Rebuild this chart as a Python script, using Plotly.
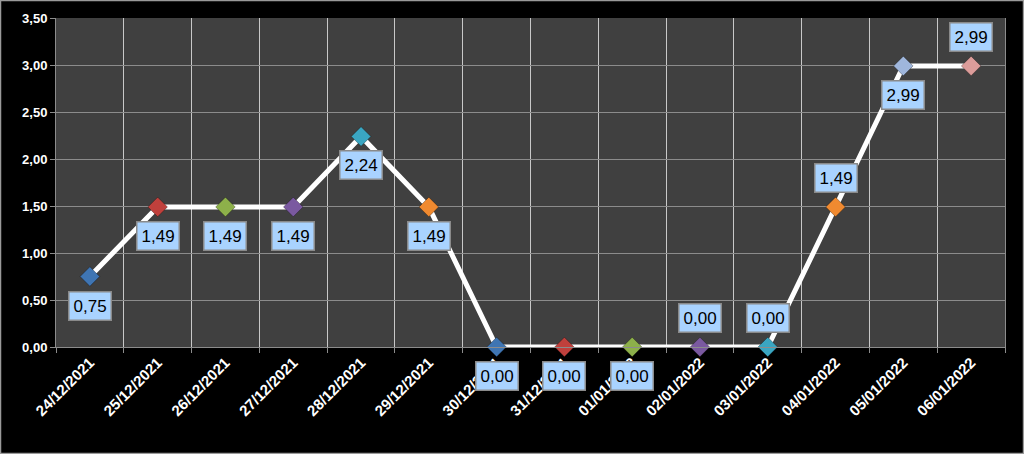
import plotly.graph_objects as go

dates = ["24/12/2021", "25/12/2021", "26/12/2021", "27/12/2021", "28/12/2021",
         "29/12/2021", "30/12/2021", "31/12/2021", "01/01/2022", "02/01/2022",
         "03/01/2022", "04/01/2022", "05/01/2022", "06/01/2022"]
values = [0.75, 1.49, 1.49, 1.49, 2.24, 1.49, 0.00, 0.00, 0.00, 0.00, 0.00, 1.49, 2.99, 2.99]
marker_colors = ["#3f75b3", "#c0403c", "#8db04a", "#7a59a0", "#3aa6c2", "#f08a30",
                 "#3f75b3", "#c0403c", "#8db04a", "#7a59a0", "#3aa6c2", "#f08a30",
                 "#9fb6dc", "#dc9c9a"]
label_pos = ["below", "below", "below", "below", "below", "below", "below", "below",
             "below", "above", "above", "above", "below", "above"]
y_ticks = [0, 0.5, 1.0, 1.5, 2.0, 2.5, 3.0, 3.5]

xs = list(range(len(dates)))

fig = go.Figure()
fig.add_trace(go.Scatter(
    x=xs, y=values, mode="lines+markers",
    line=dict(color="white", width=5),
    marker=dict(symbol="diamond", size=15, color=marker_colors,
                line=dict(color="rgba(0,0,0,0.3)", width=1)),
    cliponaxis=False, showlegend=False, hoverinfo="skip",
))

for x, v, pos in zip(xs, values, label_pos):
    fig.add_annotation(
        x=x, y=v, xref="x", yref="y",
        text=f"{v:.2f}".replace(".", ","),
        showarrow=False,
        yshift=-29 if pos == "below" else 29,
        font=dict(family="Liberation Sans, Arial, sans-serif", size=17, color="black"),
        bgcolor="#a9d3ff", bordercolor="#8a8a8a", borderwidth=1.5, borderpad=4,
    )

W, H = 1024, 454
L, R, T, B = 56, 19, 18, 107
pw, ph = W - L - R, H - T - B
fig.add_shape(type="rect", xref="paper", yref="paper",
              x0=(0.5 - L) / pw, x1=(W - 0.5 - L) / pw,
              y0=(H - B - (H - 0.5)) / ph, y1=(H - B - 0.5) / ph,
              line=dict(color="#9a9a9a", width=1.5), layer="above")

fig.update_layout(
    width=W, height=H,
    margin=dict(l=L, r=R, t=T, b=B),
    paper_bgcolor="black", plot_bgcolor="#404040",
    separators=", ",
    font=dict(family="Liberation Sans, Arial, sans-serif", color="white"),
    xaxis=dict(
        range=[-0.5, len(dates) - 0.5],
        tickmode="array", tickvals=xs, ticktext=[f"<b>{d}</b>" for d in dates],
        tickangle=-45, tickfont=dict(size=15, color="white"),
        showgrid=False, ticks="", zeroline=False,
        showline=True, linecolor="#8c8c8c", linewidth=1,
        minor=dict(tickmode="array", tickvals=[i - 0.5 for i in range(len(dates) + 1)],
                   showgrid=True, gridcolor="#c8c8c8", gridwidth=1,
                   ticks="outside", ticklen=5, tickcolor="#8c8c8c"),
    ),
    yaxis=dict(
        range=[0, 3.5], tickmode="array", tickvals=y_ticks,
        ticktext=[f"<b>{t:.2f}</b>".replace(".", ",") for t in y_ticks],
        tickfont=dict(size=13, color="white"),
        showgrid=True, gridcolor="#8c8c8c", gridwidth=1, zeroline=False,
        ticks="outside", ticklen=5, tickcolor="#8c8c8c",
        showline=True, linecolor="#8c8c8c", linewidth=1, mirror=True,
    ),
)

fig.write_html("out.html",
               config={"displayModeBar": False},
               post_script="document.body.style.margin='0';document.body.style.background='black';")
